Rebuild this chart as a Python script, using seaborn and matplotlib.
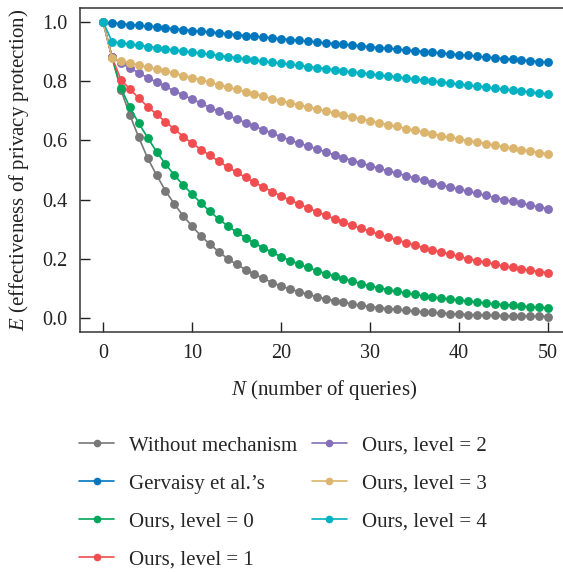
import numpy as np
import pandas as pd
import matplotlib
matplotlib.use("Agg")
import matplotlib.pyplot as plt
import seaborn as sns
from matplotlib.lines import Line2D

N = list(range(51))

without_mechanism = [1.0, 0.88, 0.77, 0.686, 0.61, 0.54, 0.483, 0.43, 0.385, 0.345,
                     0.31, 0.277, 0.249, 0.224, 0.2, 0.181, 0.164, 0.148, 0.134, 0.12,
                     0.108, 0.098, 0.089, 0.08, 0.072, 0.065, 0.059, 0.053, 0.048, 0.043,
                     0.039, 0.035, 0.032, 0.029, 0.026, 0.023, 0.021, 0.019, 0.017, 0.015,
                     0.013, 0.012, 0.011, 0.010, 0.009, 0.008, 0.007, 0.007, 0.006, 0.006,
                     0.005]
gervaisy = [1.0, 0.997, 0.994, 0.991, 0.988, 0.986, 0.983, 0.980, 0.977, 0.974,
            0.971, 0.968, 0.966, 0.963, 0.960, 0.957, 0.954, 0.951, 0.949, 0.946,
            0.943, 0.940, 0.938, 0.935, 0.932, 0.929, 0.927, 0.924, 0.921, 0.919,
            0.916, 0.913, 0.911, 0.908, 0.905, 0.903, 0.900, 0.897, 0.895, 0.892,
            0.889, 0.887, 0.884, 0.881, 0.879, 0.876, 0.874, 0.871, 0.869, 0.866,
            0.864]
level0 = [1.0, 0.88, 0.776, 0.712, 0.658, 0.609, 0.562, 0.520, 0.483, 0.449,
          0.418, 0.388, 0.360, 0.334, 0.311, 0.290, 0.271, 0.253, 0.237, 0.222,
          0.207, 0.194, 0.182, 0.171, 0.160, 0.150, 0.141, 0.132, 0.124, 0.116,
          0.108, 0.102, 0.096, 0.090, 0.085, 0.080, 0.075, 0.071, 0.067, 0.064,
          0.061, 0.057, 0.054, 0.051, 0.048, 0.045, 0.043, 0.040, 0.038, 0.036,
          0.034]
level1 = [1.0, 0.88, 0.805, 0.773, 0.743, 0.714, 0.688, 0.663, 0.638, 0.613,
          0.590, 0.569, 0.549, 0.529, 0.510, 0.492, 0.475, 0.458, 0.442, 0.427,
          0.412, 0.398, 0.385, 0.372, 0.359, 0.347, 0.335, 0.324, 0.313, 0.303,
          0.293, 0.283, 0.273, 0.264, 0.255, 0.246, 0.238, 0.230, 0.222, 0.215,
          0.208, 0.201, 0.194, 0.188, 0.182, 0.176, 0.171, 0.166, 0.161, 0.157,
          0.153]
level2 = [1.0, 0.88, 0.862, 0.845, 0.828, 0.812, 0.797, 0.782, 0.767, 0.753,
          0.739, 0.725, 0.711, 0.698, 0.685, 0.672, 0.660, 0.648, 0.636, 0.624,
          0.612, 0.601, 0.591, 0.581, 0.571, 0.561, 0.551, 0.542, 0.532, 0.523,
          0.514, 0.506, 0.497, 0.489, 0.481, 0.473, 0.465, 0.457, 0.450, 0.442,
          0.435, 0.428, 0.421, 0.414, 0.407, 0.400, 0.394, 0.387, 0.381, 0.375,
          0.369]
level3 = [1.0, 0.878, 0.869, 0.862, 0.854, 0.847, 0.840, 0.833, 0.826, 0.819,
          0.812, 0.804, 0.796, 0.788, 0.780, 0.772, 0.764, 0.757, 0.749, 0.741,
          0.734, 0.727, 0.720, 0.713, 0.706, 0.699, 0.692, 0.686, 0.679, 0.672,
          0.666, 0.659, 0.653, 0.647, 0.640, 0.634, 0.628, 0.622, 0.616, 0.610,
          0.604, 0.599, 0.594, 0.589, 0.584, 0.579, 0.574, 0.569, 0.564, 0.559,
          0.554]
level4 = [1.0, 0.933, 0.929, 0.925, 0.921, 0.917, 0.913, 0.909, 0.905, 0.902,
          0.898, 0.894, 0.890, 0.886, 0.883, 0.879, 0.875, 0.871, 0.868, 0.864,
          0.860, 0.857, 0.853, 0.849, 0.846, 0.842, 0.838, 0.835, 0.831, 0.828,
          0.824, 0.821, 0.817, 0.814, 0.810, 0.807, 0.803, 0.800, 0.797, 0.793,
          0.790, 0.786, 0.783, 0.780, 0.776, 0.773, 0.770, 0.767, 0.763, 0.760,
          0.757]

series_names = ["Without mechanism", "Gervaisy et al.\u2019s", "Ours, level = 0",
                "Ours, level = 1", "Ours, level = 2", "Ours, level = 3", "Ours, level = 4"]
series_values = [without_mechanism, gervaisy, level0, level1, level2, level3, level4]
colors = ["#787878", "#0076bd", "#00a65a", "#ef4d4f", "#8470b8", "#dbb46e", "#00b1c1"]

xticks = [0, 10, 20, 30, 40, 50]
yticks = [0.0, 0.2, 0.4, 0.6, 0.8, 1.0]

rows = []
for name, vals in zip(series_names, series_values):
    for n, v in zip(N, vals):
        rows.append({"N": n, "E": v, "series": name})
df = pd.DataFrame(rows)

sns.set_style("ticks")
plt.rcParams["font.family"] = ["Liberation Serif", "DejaVu Serif"]
plt.rcParams["mathtext.fontset"] = "custom"
plt.rcParams["mathtext.rm"] = "Liberation Serif"
plt.rcParams["mathtext.it"] = "Liberation Serif:italic"

fig = plt.figure(figsize=(5.63, 5.73), dpi=100)
ax = fig.add_axes([80 / 563, 1 - 332 / 573, 1 - 80 / 563 + 0.01, (332 - 8) / 573])

sns.lineplot(data=df, x="N", y="E", hue="series", hue_order=series_names,
             palette=colors, marker="o", markersize=6.4, markeredgewidth=0,
             linewidth=1.2, ax=ax, legend=False, sort=False)

ax.set_xlim(-2.6, 52.3)
ax.set_ylim(-0.047, 1.047)
ax.set_xticks(xticks)
ax.set_yticks(yticks)
ax.set_xticklabels([str(t) for t in xticks])
ax.set_yticklabels([f"{t:.1f}" for t in yticks])
ax.tick_params(direction="in", length=7, width=1, labelsize=14.5, colors="#222222")
ax.tick_params(axis="x", pad=9)
ax.tick_params(axis="y", pad=9)
for side in ["left", "bottom", "top"]:
    ax.spines[side].set_visible(True)
    ax.spines[side].set_linewidth(1.1)
    ax.spines[side].set_color("#333333")
ax.spines["right"].set_visible(False)

ax.set_xlabel("$\\it{N}$ (number of queries)", fontsize=15, labelpad=10.5, color="#222222")
ax.set_ylabel("$\\it{E}$ (effectiveness of privacy protection)", fontsize=15,
              labelpad=8, color="#222222")

handles = [Line2D([0], [0], color=c, marker="o", markersize=5.5, markeredgewidth=0,
                  linewidth=1.2) for c in colors]
fig.legend(handles, series_names, ncol=2, loc="upper left",
           bbox_to_anchor=(79 / 563, 1 - 436 / 573), frameon=False, fontsize=15,
           handlelength=1.7, handletextpad=0.7, columnspacing=0.7, labelspacing=0.88,
           borderpad=0, borderaxespad=0)

fig.savefig("out.png", dpi=100)
